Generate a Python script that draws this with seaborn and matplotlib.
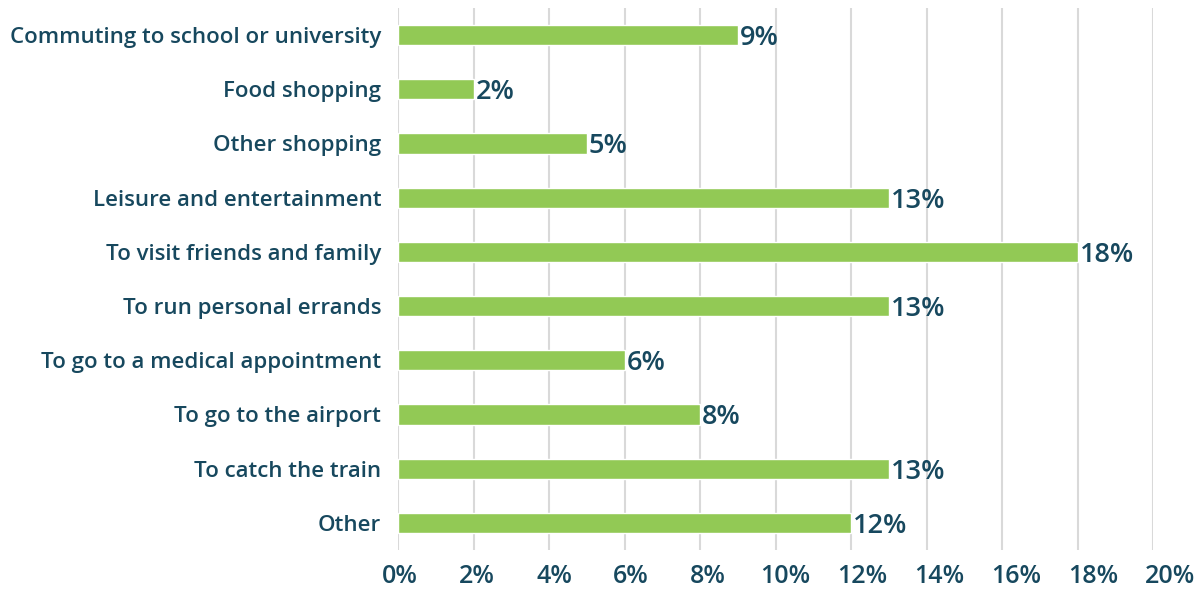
import matplotlib
matplotlib.use("Agg")
import matplotlib.pyplot as plt
import matplotlib.transforms as mtransforms
import seaborn as sns
import pandas as pd
from matplotlib.ticker import FuncFormatter

categories = [
    "Commuting to school or university",
    "Food shopping",
    "Other shopping",
    "Leisure and entertainment",
    "To visit friends and family",
    "To run personal errands",
    "To go to a medical appointment",
    "To go to the airport",
    "To catch the train",
    "Other",
]
shares = [9, 2, 5, 13, 18, 13, 6, 8, 13, 12]
x_ticks = [0, 2, 4, 6, 8, 10, 12, 14, 16, 18, 20]

TEXT = "#17485E"
BAR = "#92C955"
GRID = "#D9D9D9"

sns.set_theme(style="white")
plt.rcParams["font.family"] = ["Open Sans", "DejaVu Sans"]

df = pd.DataFrame({"purpose": categories, "share": shares})

fig = plt.figure(figsize=(12.01, 5.97), dpi=100)
ax = fig.add_axes([398 / 1201, 1 - 550 / 597, (1153 - 398) / 1201, (550 - 8) / 597])

sns.barplot(data=df, x="share", y="purpose", color=BAR, width=0.37,
            saturation=1, ax=ax, zorder=3)

ax.set_xlim(0, 20)
ax.set_xticks(x_ticks)
ax.xaxis.set_major_formatter(FuncFormatter(lambda v, p: f"{v:.0f}%"))
ax.grid(axis="x", color=GRID, linewidth=1.5, zorder=0)
ax.grid(axis="y", visible=False)
for s in ax.spines.values():
    s.set_visible(False)
ax.set_xlabel("")
ax.set_ylabel("")
ax.tick_params(axis="both", length=0)
ax.tick_params(axis="y", pad=12)
ax.tick_params(axis="x", pad=10)
for lbl in ax.get_yticklabels():
    lbl.set_fontsize(16)
    lbl.set_fontweight("semibold")
    lbl.set_color(TEXT)
for v, lbl in zip(x_ticks, ax.get_xticklabels()):
    lbl.set_fontsize(18)
    lbl.set_fontweight("semibold")
    lbl.set_color(TEXT)
    # labels drift slightly right of their gridlines
    shift = mtransforms.ScaledTranslation((2 + 0.75 * v) / 100, 0, fig.dpi_scale_trans)
    lbl.set_transform(lbl.get_transform() + shift)

label_shift = mtransforms.ScaledTranslation(2 / 100, -3 / 100, fig.dpi_scale_trans)
for i, v in enumerate(shares):
    ax.text(v, i, f"{v}%", va="center", ha="left", fontsize=19.5,
            fontweight="semibold", color=TEXT, zorder=4,
            transform=ax.transData + label_shift)

fig.savefig("out.png", dpi=100)
